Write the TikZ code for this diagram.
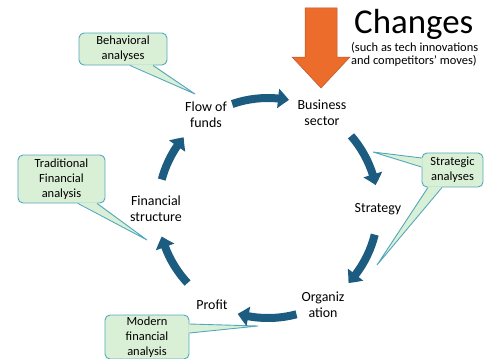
\documentclass[tikz,border=0pt]{standalone}
\usepackage{fontspec}
\setmainfont{Carlito}
\usetikzlibrary{arrows.meta,bending}
\definecolor{cycblue}{RGB}{28,92,128}
\definecolor{chorange}{RGB}{236,108,44}
\definecolor{callgreen}{RGB}{218,240,214}
\definecolor{callteal}{RGB}{82,168,190}
\begin{document}
\begin{tikzpicture}[x=1bp, y=1bp,
	lbl/.style={align=center, inner sep=0pt, font=\fontsize{14}{16}\selectfont},
	callbox/.style={draw=callteal, fill=callgreen, line width=0.9bp, rounded corners=5bp, align=center, inner sep=0pt, font=\fontsize{12.5}{15}\selectfont},
	callline/.style={callteal, line width=0.9bp},
	cyc/.style={cycblue, line width=8bp, -{Triangle[width=19bp, length=11bp, bend]}}]
	\useasboundingbox (0,0) rectangle (485,358);
	\clip (0,0) rectangle (485,358);
	% callouts
	\node[callbox, minimum width=88bp, minimum height=32bp] (beh) at (123,309) {Behavioral\\analyses};
	\node[callbox, minimum width=87bp, minimum height=48bp] (trad) at (61.5,179) {Traditional\\Financial\\analysis};
	\node[callbox, minimum width=84bp, minimum height=44bp] (mod) at (147,21) {Modern\\financial\\analysis};
	\node[callbox, minimum width=61bp, minimum height=34bp] (stra) at (452.5,188) {Strategic\\analyses};
	\coordinate (behtip) at (195,264);
	\coordinate (tradtip) at (147,118);
	\coordinate (modtip) at (258,32);
	\coordinate (stratipa) at (373,206);
	\coordinate (stratipb) at (377,93);
	\fill[callgreen] ([xshift=7bp, yshift=1bp]beh.south) -- (behtip) -- ([xshift=30bp, yshift=1bp]beh.south) -- cycle;
	\draw[callline] ([xshift=7bp]beh.south) -- (behtip) -- ([xshift=30bp]beh.south);
	\fill[callgreen] ([xshift=16.5bp, yshift=1bp]trad.south) -- (tradtip) -- ([xshift=35.5bp, yshift=1bp]trad.south) -- cycle;
	\draw[callline] ([xshift=16.5bp]trad.south) -- (tradtip) -- ([xshift=35.5bp]trad.south);
	\fill[callgreen] ([xshift=-1bp, yshift=13bp]mod.east) -- (modtip) -- ([xshift=-1bp, yshift=4bp]mod.east) -- cycle;
	\draw[callline] ([yshift=13bp]mod.east) -- (modtip) -- ([yshift=4bp]mod.east);
	\fill[callgreen] ([xshift=1bp, yshift=12bp]stra.west) -- (stratipa) -- ([xshift=1bp, yshift=3bp]stra.west) -- cycle;
	\draw[callline] ([yshift=12bp]stra.west) -- (stratipa) -- ([yshift=3bp]stra.west);
	\fill[callgreen] ([xshift=-24.5bp, yshift=1bp]stra.south) -- (stratipb) -- ([xshift=-10.5bp, yshift=1bp]stra.south) -- cycle;
	\draw[callline] ([xshift=-24.5bp]stra.south) -- (stratipb) -- ([xshift=-10.5bp]stra.south);
	% cycle
	\node[lbl] (flow) at (206,243) {Flow of\\funds};
	\node[lbl] (bus) at (322,245) {Business\\sector};
	\node[lbl] (strat) at (378,149) {Strategy};
	\node[lbl] (org) at (323,53) {Organiz\\ation};
	\node[lbl] (prof) at (212,53) {Profit};
	\node[lbl] (fin) at (156,149) {Financial\\structure};
	\coordinate (c) at (268,150);
	\foreach \s/\e in {109/79, 41/12, -14/-43, -75/-106, -137/-165, 165/140}
		\draw[cyc] (c) ++(\s:110) arc[start angle=\s, end angle=\e, radius=110];
	% changes
	\fill[chorange, draw=chorange!80!black, line width=0.5bp] (305,350) -- (337,350) -- (337,301) -- (350,301) -- (321,270) -- (292,301) -- (305,301) -- cycle;
	\node[anchor=base west, inner sep=0pt, font=\fontsize{35}{40}\selectfont] (chg) at (354,325) {Changes};
	\node[anchor=north west, align=left, inner sep=0pt, font=\fontsize{12.5}{13}\selectfont] (sub) at (351,316) {(such as tech innovations\\and competitors' moves)};
\end{tikzpicture}
\end{document}
